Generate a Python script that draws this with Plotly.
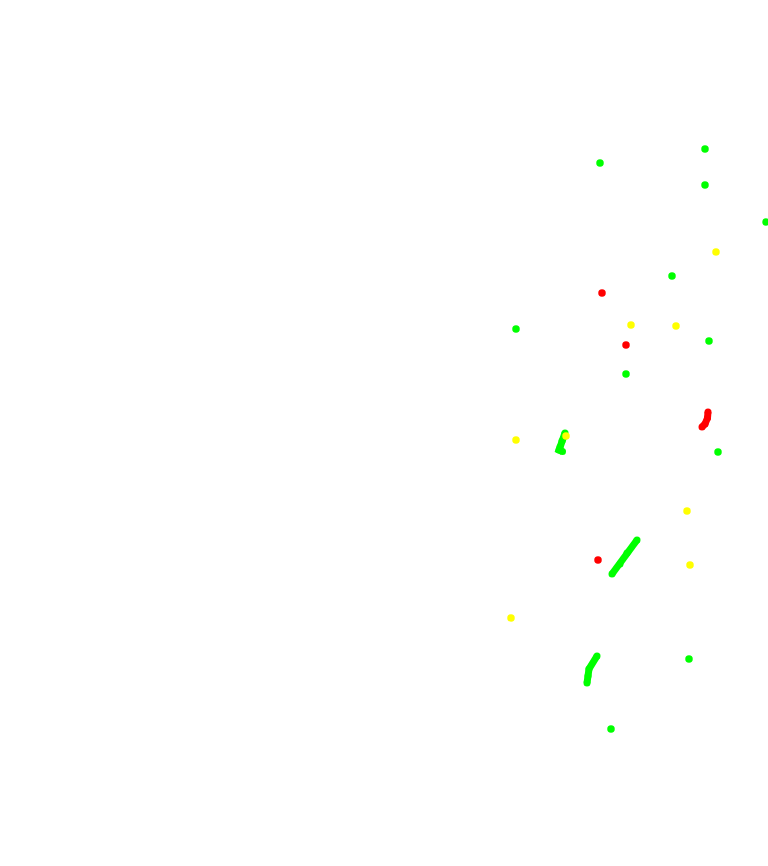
import plotly.graph_objects as go

# Point observations (x, y in plot units)
green_x = [705, 600, 705, 766, 672, 516, 709, 626, 718, 689, 611]
green_y = [149, 163, 185, 222, 276, 329, 341, 374, 452, 659, 729]
yellow_x = [716, 631, 676, 516, 566, 687, 690, 511]
yellow_y = [252, 325, 326, 440, 436, 511, 565, 618]
red_x = [602, 626, 598]
red_y = [293, 345, 560]

# Tracks
track_g1_x = [565, 562, 560, 559, 562.5]
track_g1_y = [433, 441, 447, 450, 451.5]
track_g2_x = [637, 627, 620, 612]
track_g2_y = [540, 553, 564, 574]
track_g3_x = [597, 589, 588, 587]
track_g3_y = [656, 669, 676, 683]
track_r1_x = [708, 707.5, 705, 702]
track_r1_y = [412, 418, 424, 427]

GREEN = "#00ff00"
YELLOW = "#ffff00"
RED = "#ff0000"

fig = go.Figure()

def track(xs, ys, color):
    fig.add_trace(go.Scatter(x=xs, y=ys, mode="lines+markers",
                             line=dict(color=color, width=7),
                             marker=dict(color=color, size=7, line=dict(width=0)),
                             hoverinfo="skip", showlegend=False))

track(track_g1_x, track_g1_y, GREEN)
track(track_g2_x, track_g2_y, GREEN)
track(track_g3_x, track_g3_y, GREEN)
track(track_r1_x, track_r1_y, RED)

def pts(xs, ys, color):
    fig.add_trace(go.Scatter(x=xs, y=ys, mode="markers",
                             marker=dict(color=color, size=7.5, line=dict(width=0)),
                             showlegend=False))

pts(green_x, green_y, GREEN)
pts(red_x, red_y, RED)
pts(yellow_x, yellow_y, YELLOW)

fig.update_layout(
    width=768, height=866,
    margin=dict(l=0, r=0, t=0, b=0),
    paper_bgcolor="white", plot_bgcolor="white",
    xaxis=dict(range=[0, 768], visible=False, fixedrange=True),
    yaxis=dict(range=[866, 0], visible=False, fixedrange=True),
)

fig.write_html(
    "out.html",
    config={"displayModeBar": False},
    post_script="document.body.style.margin='0';document.body.style.overflow='hidden';",
)
